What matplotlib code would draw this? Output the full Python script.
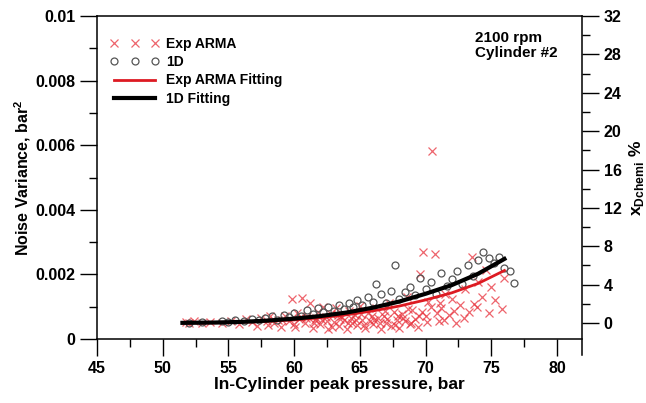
import matplotlib
matplotlib.use("Agg")
import matplotlib.pyplot as plt
from matplotlib.ticker import MultipleLocator

plt.rcParams['font.family'] = ['Liberation Sans', 'DejaVu Sans']
plt.rcParams['font.weight'] = 'bold'

# Exp ARMA points (peak pressure in bar, noise variance in 1e-3 bar^2)
arma_p = [51.8, 52.0, 52.4, 53.0, 53.6, 54.5, 55.2, 55.8, 56.3, 56.8, 57.2, 57.5, 57.9,
          58.2, 58.5, 58.8, 59.0, 59.3, 59.6, 59.8, 60.0, 60.2, 60.4, 60.6, 60.8, 61.0,
          61.2, 61.4, 61.6, 61.8, 62.0, 62.2, 62.4, 62.6, 62.8, 63.0, 63.2, 63.4, 63.6,
          63.8, 64.0, 64.2, 64.4, 64.6, 64.8, 65.0, 65.2, 65.4, 65.6, 65.8, 66.0, 66.2,
          66.4, 66.6, 66.8, 67.0, 67.2, 67.4, 67.6, 67.8, 68.0, 68.2, 68.4, 68.6, 68.8,
          69.0, 69.2, 69.4, 69.6, 69.8, 70.0, 70.2, 70.5, 70.7, 71.0, 71.2, 71.5, 71.8,
          72.0, 72.3, 72.6, 73.0, 73.3, 73.5, 73.7, 74.0, 74.3, 74.6, 75.0, 75.3, 75.8,
          76.0,
          58.0, 59.1, 60.1, 60.9, 61.5, 62.1, 62.9, 63.5, 64.1, 64.7, 65.3, 65.9, 66.5,
          67.1, 67.7, 68.3, 68.9, 69.5, 70.1, 70.9, 71.4, 72.2, 72.9, 73.9, 74.8,
          60.5, 61.7, 62.5, 63.3, 64.3, 65.1, 66.1, 66.9, 67.9, 68.7, 69.7, 70.4, 71.1]
arma_v = [0.52, 0.48, 0.55, 0.50, 0.53, 0.50, 0.56, 0.45, 0.62, 0.52, 0.40, 0.66, 0.55,
          0.72, 0.48, 0.60, 0.38, 0.70, 0.55, 1.25, 0.45, 0.80, 0.62, 1.27, 0.50, 0.72,
          1.10, 0.35, 0.58, 0.85, 0.46, 1.00, 0.68, 0.30, 0.78, 0.52, 0.95, 0.40, 0.70,
          0.60, 0.32, 0.88, 0.50, 0.75, 0.42, 1.02, 0.60, 0.35, 0.80, 0.55, 0.45, 0.95,
          0.65, 0.30, 0.72, 0.50, 1.10, 0.40, 0.85, 0.60, 0.35, 0.78, 0.55, 1.30, 0.45,
          0.90, 0.62, 0.38, 2.00, 2.70, 0.70, 1.15, 5.82, 2.63, 0.55, 0.95, 1.40, 0.75,
          1.25, 0.48, 1.05, 1.55, 0.85, 2.54, 1.08, 1.75, 1.30, 2.13, 1.60, 1.20, 0.93,
          1.90,
          0.42, 0.58, 0.36, 0.66, 0.48, 0.58, 0.38, 0.62, 0.48, 0.58, 0.44, 0.70, 0.48,
          0.62, 0.44, 0.66, 0.50, 0.72, 0.52, 0.82, 0.60, 0.88, 0.66, 1.00, 0.80,
          0.68, 0.64, 0.55, 0.75, 0.66, 0.78, 0.60, 0.88, 0.70, 0.92, 0.85, 0.98, 1.10]

# 1D model points
oned_p = [52.0, 53.0, 54.5, 55.0, 55.5, 56.2, 56.8, 57.3, 57.8, 58.3, 58.7, 59.2, 59.6,
          60.0, 60.5, 61.0, 61.4, 61.8, 62.2, 62.6, 63.0, 63.4, 63.8, 64.2, 64.5, 64.8,
          65.2, 65.6, 66.0, 66.2, 66.6, 67.0, 67.4, 67.7, 68.0, 68.4, 68.8, 69.2, 69.6,
          70.0, 70.4, 70.8, 71.2, 71.6, 72.0, 72.4, 72.8, 73.2, 73.6, 74.0, 74.4, 74.8,
          75.2, 75.6, 76.0, 76.4, 76.7]
oned_v = [0.50, 0.52, 0.55, 0.52, 0.58, 0.55, 0.62, 0.58, 0.65, 0.70, 0.60, 0.75, 0.68,
          0.80, 0.72, 0.90, 0.78, 0.95, 0.85, 1.00, 0.88, 1.05, 0.92, 1.12, 0.98, 1.20,
          1.05, 1.30, 1.15, 1.70, 1.40, 1.10, 1.50, 2.29, 1.25, 1.45, 1.60, 1.35, 1.90,
          1.55, 1.75, 1.40, 2.05, 1.65, 1.85, 2.10, 1.70, 2.30, 1.95, 2.45, 2.70, 2.50,
          2.35, 2.55, 2.20, 2.10, 1.73]

# fitted curves
fit_p = [51.5, 54, 56, 58, 60, 62, 64, 66, 68, 70, 72, 74, 76]
fit_arma = [0.50, 0.50, 0.52, 0.55, 0.59, 0.66, 0.75, 0.87, 1.02, 1.21, 1.43, 1.72, 2.12]
fit_oned = [0.50, 0.51, 0.53, 0.57, 0.63, 0.71, 0.82, 0.97, 1.16, 1.40, 1.67, 2.02, 2.48]

x_ticks = [45, 50, 55, 60, 65, 70, 75, 80]
y_ticks = [0, 0.002, 0.004, 0.006, 0.008, 0.01]
y_labels = ['0', '0.002', '0.004', '0.006', '0.008', '0.01']
r_ticks = [0, 4, 8, 12, 16, 20, 24, 28, 32]

fig = plt.figure(figsize=(6.46, 4.03), dpi=100)
ax = fig.add_axes([97 / 646, 1 - 339 / 403, (582 - 97) / 646, (339 - 16) / 403])

red = '#e8323c'
ax.plot(arma_p, [v * 1e-3 for v in arma_v], 'x', color=red, alpha=0.75,
        markersize=6, markeredgewidth=0.9, label='Exp ARMA')
ax.plot(oned_p, [v * 1e-3 for v in oned_v], 'o', mfc='none', mec='#555555',
        markersize=5, markeredgewidth=0.9, label='1D')
ax.plot(fit_p, [v * 1e-3 for v in fit_arma], '-', color='#dd1a22', lw=2, label='Exp ARMA Fitting')
ax.plot(fit_p, [v * 1e-3 for v in fit_oned], '-', color='black', lw=3, label='1D Fitting')

ax.set_xlim(45, 45 + (582 - 97) / 13.143)
ax.set_ylim(0, 0.01)
ax.set_xticks(x_ticks)
ax.xaxis.set_minor_locator(MultipleLocator(2.5))
ax.set_yticks(y_ticks)
ax.set_yticklabels(y_labels)
ax.yaxis.set_minor_locator(MultipleLocator(0.001))
ax.tick_params(which='major', direction='out', length=12, width=1, labelsize=11.5)
ax.tick_params(which='minor', direction='out', length=6, width=1)
ax.spines['right'].set_visible(False)
for s in ax.spines.values():
    s.set_linewidth(1.1)

ax.set_xlabel('In-Cylinder peak pressure, bar', fontsize=12.5, fontweight='bold', labelpad=1)
ax.set_ylabel('Noise Variance, bar$^\\mathregular{2}$', fontsize=11.5, fontweight='bold', labelpad=2)

ax2 = ax.twinx()
ax2.set_ylim(-1.66, 32)
ax2.set_yticks(r_ticks)
ax2.yaxis.set_minor_locator(MultipleLocator(2))
ax2.tick_params(which='major', direction='out', length=12, width=1, labelsize=11.5)
ax2.tick_params(which='minor', direction='out', length=6, width=1)
ax2.spines['right'].set_bounds(-3.3, 32)
ax2.spines['right'].set_linewidth(1.1)
for k in ['left', 'top', 'bottom']:
    ax2.spines[k].set_visible(False)
ax2.set_ylabel('x$_{\\mathregular{Dchemi}}$ %', fontsize=12.5, fontweight='bold', labelpad=4)

ax.legend(loc='upper left', bbox_to_anchor=(0.0, 0.975), frameon=False, numpoints=3,
          handlelength=3.6, prop={'weight': 'bold', 'size': 10}, labelspacing=0.32,
          handletextpad=0.5)

ax.text(0.78, 0.955, '2100 rpm\nCylinder #2', transform=ax.transAxes, fontsize=11,
        fontweight='bold', va='top', ha='left', linespacing=1.1)

fig.savefig('out.png', dpi=100)
